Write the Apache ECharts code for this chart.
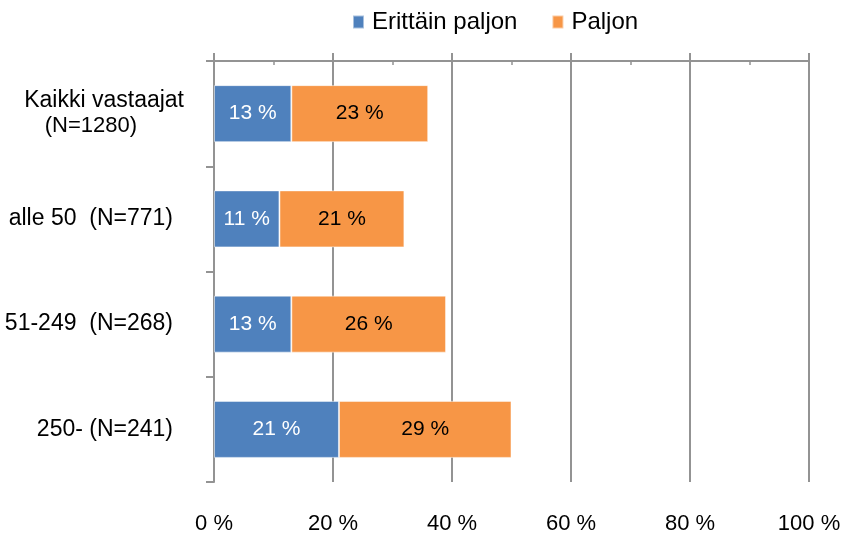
<!DOCTYPE html>
<html>
<head>
<meta charset="utf-8">
<script src="https://cdn.jsdelivr.net/npm/echarts@6/dist/echarts.min.js"></script>
<style>
  html, body { margin: 0; padding: 0; background: #fff; }
  #chart { width: 849px; height: 539px; }
</style>
</head>
<body>
<div id="chart"></div>
<script>
var categories = ['Kaikki vastaajat\n(N=1280)', 'alle 50  (N=771)', '51-249  (N=268)', '250- (N=241)'];
var erittainPaljon = [13, 11, 13, 21];
var paljon = [23, 21, 26, 29];
var xTicks = [0, 20, 40, 60, 80, 100];

var font = 'Liberation Sans, Arial, sans-serif';
var gridColor = '#939393';

var myChart = echarts.init(document.getElementById('chart'));

option = {
    animation: false,
    textStyle: { fontFamily: font },
    legend: {
        left: 347,
        top: 5,
        itemWidth: 11,
        itemHeight: 13,
        itemGap: 34,
        icon: 'rect',
        textStyle: { fontSize: 24, color: '#000', fontFamily: font, padding: [0, 0, 0, 3] },
        data: ['Erittäin paljon', 'Paljon']
    },
    grid: { left: 214, right: 40, top: 61, bottom: 57 },
    xAxis: [
        {
            // bottom labels + gridlines
            type: 'value', position: 'bottom',
            min: xTicks[0], max: xTicks[xTicks.length - 1], interval: 20,
            axisLine: { show: false },
            axisTick: { show: false },
            axisLabel: {
                margin: 31, fontSize: 22, color: '#000', fontFamily: font,
                formatter: '{value} %'
            },
            splitLine: { show: true, lineStyle: { color: gridColor, width: 2 } }
        },
        {
            // top line with outside major ticks
            type: 'value', position: 'top',
            min: 0, max: 100, interval: 20,
            axisLine: { show: true, lineStyle: { color: gridColor, width: 2 } },
            axisTick: { show: true, length: 8, lineStyle: { color: gridColor, width: 2 } },
            axisLabel: { show: false },
            splitLine: { show: false }
        },
        {
            // top minor ticks pointing down
            type: 'value', position: 'top',
            min: 0, max: 100, interval: 10,
            axisLine: { show: false },
            axisTick: { show: true, inside: true, length: 4, lineStyle: { color: gridColor, width: 1.5 } },
            axisLabel: { show: false },
            splitLine: { show: false }
        }
    ],
    yAxis: {
        type: 'category',
        inverse: true,
        data: categories,
        axisLine: { show: true, lineStyle: { color: gridColor, width: 2 } },
        axisTick: { show: true, length: 8, lineStyle: { color: gridColor, width: 2 } },
        axisLabel: {
            margin: 30, fontSize: 23, color: '#000', fontFamily: font, lineHeight: 25,
            formatter: function (v) {
                if (v.indexOf('\n') >= 0) {
                    var parts = v.split('\n');
                    return '{a|' + parts[0] + '}\n{b|' + parts[1] + '}';
                }
                return '{s|' + v + '}';
            },
            rich: {
                a: { fontSize: 23, color: '#000', fontFamily: font, lineHeight: 25 },
                b: { fontSize: 22, color: '#000', fontFamily: font, lineHeight: 25, padding: [0, 47, 0, 0] },
                s: { fontSize: 23, color: '#000', fontFamily: font, lineHeight: 25, padding: [0, 11, 0, 0] }
            }
        },
        splitLine: { show: false }
    },
    series: [
        {
            name: 'Erittäin paljon',
            type: 'bar',
            stack: 'total',
            barWidth: 57,
            data: erittainPaljon,
            itemStyle: { color: '#4F81BD', borderColor: 'rgba(255,255,255,0.5)', borderWidth: 1 },
            label: {
                show: true, position: 'inside', formatter: '{c} %',
                fontSize: 21, color: '#fff', fontFamily: font
            }
        },
        {
            name: 'Paljon',
            type: 'bar',
            stack: 'total',
            barWidth: 57,
            data: paljon,
            itemStyle: { color: '#F79646', borderColor: 'rgba(255,255,255,0.5)', borderWidth: 1 },
            label: {
                show: true, position: 'inside', formatter: '{c} %',
                fontSize: 21, color: '#000', fontFamily: font
            }
        }
    ]
};
myChart.setOption(option);
</script>
</body>
</html>
